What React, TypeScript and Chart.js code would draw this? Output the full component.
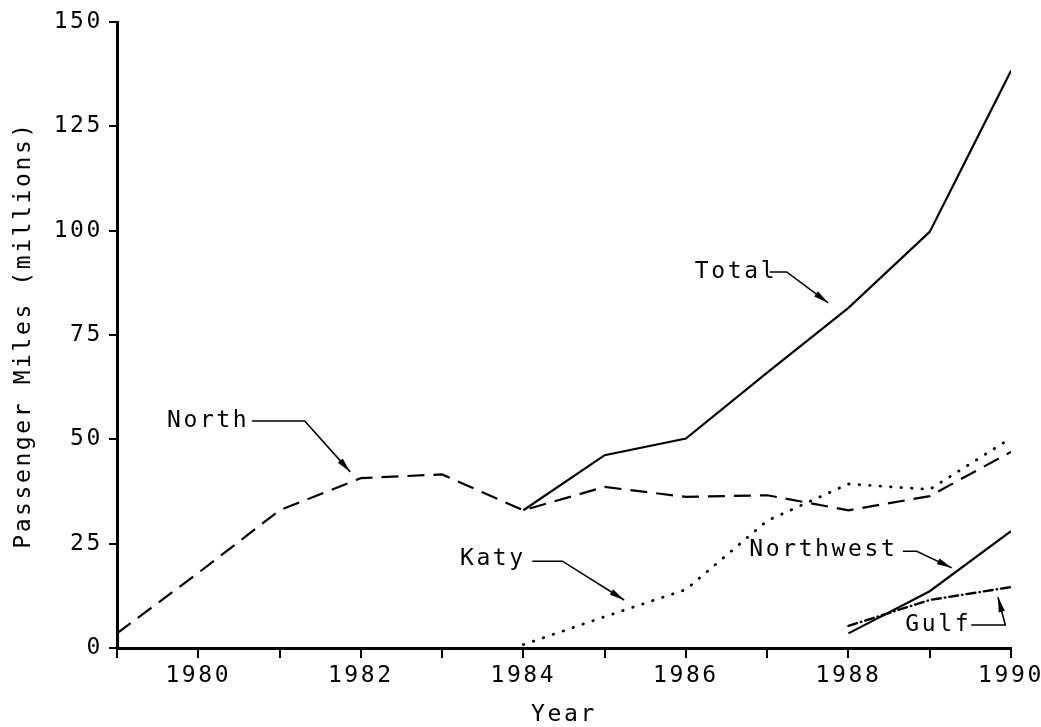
import React, { useEffect, useRef } from 'react';
import { Chart, registerables } from 'chart.js';

Chart.register(...registerables);

const FONT = '"DejaVu Sans Mono", monospace';

// ---- data ----
const years = [1979, 1980, 1981, 1982, 1983, 1984, 1985, 1986, 1987, 1988, 1989, 1990];
const north = [3.5, 18, 33, 40.7, 41.6, 33, 38.6, 36.2, 36.6, 33, 36.4, 47];
const total = [null, null, null, null, null, 33, 46.2, 50.2, 66, 81.5, 99.7, 138.3];
const katy = [null, null, null, null, null, 0.8, 7.5, 14, 30.5, 39.3, 38, 50.3];
const northwest = [null, null, null, null, null, null, null, null, null, 3.5, 13.6, 28];
const gulf = [null, null, null, null, null, null, null, null, null, 5.3, 11.5, 14.6];

const yTicks = [0, 25, 50, 75, 100, 125, 150];
const xLabelYears = [1980, 1982, 1984, 1986, 1988, 1990];

// annotation labels (data units)
const annotationTexts = ['North', 'Total', 'Katy', 'Northwest', 'Gulf'];
const annotationTextX = [1979.615, 1986.11, 1983.22, 1986.78, 1988.7];
const annotationTextY = [54.4, 90.1, 21.3, 23.5, 5.5];
const annotationLeaders: number[][][] = [
  [[1980.66, 54.4], [1981.31, 54.4], [1981.87, 42.2]],
  [[1987.03, 90.1], [1987.24, 90.1], [1987.75, 82.7]],
  [[1984.11, 20.8], [1984.48, 20.8], [1985.24, 11.5]],
  [[1988.67, 23.2], [1988.84, 23.2], [1989.27, 19.2]],
  [[1989.51, 5.5], [1989.93, 5.5], [1989.84, 12.2]],
];

const SPACING = '2.6px';

const spacingPlugin = {
  id: 'letterSpacing',
  beforeUpdate(chart: any) {
    chart.ctx.letterSpacing = SPACING;
  },
  beforeDraw(chart: any) {
    chart.ctx.letterSpacing = SPACING;
  },
};

const annotationPlugin = {
  id: 'annotations',
  afterDatasetsDraw(chart: any) {
    const ctx = chart.ctx as CanvasRenderingContext2D;
    const xs = chart.scales.x;
    const ys = chart.scales.y;
    ctx.save();
    (ctx as any).letterSpacing = SPACING;
    ctx.fillStyle = '#000';
    ctx.strokeStyle = '#000';
    ctx.font = `23px ${FONT}`;
    ctx.textAlign = 'left';
    ctx.textBaseline = 'middle';
    annotationTexts.forEach((t, i) => {
      ctx.fillText(t, xs.getPixelForValue(annotationTextX[i]), ys.getPixelForValue(annotationTextY[i]));
      const pts = annotationLeaders[i].map(([dx, dy]) => [xs.getPixelForValue(dx), ys.getPixelForValue(dy)]);
      ctx.lineWidth = 1.6;
      ctx.beginPath();
      pts.forEach(([px, py], k) => (k === 0 ? ctx.moveTo(px, py) : ctx.lineTo(px, py)));
      ctx.stroke();
      // arrowhead
      const [ax, ay] = pts[pts.length - 1];
      const [bx, by] = pts[pts.length - 2];
      const ang = Math.atan2(ay - by, ax - bx);
      const len = 15;
      const hw = 3.2;
      const cx = ax - len * Math.cos(ang);
      const cy = ay - len * Math.sin(ang);
      ctx.beginPath();
      ctx.moveTo(ax, ay);
      ctx.lineTo(cx + hw * Math.sin(ang), cy - hw * Math.cos(ang));
      ctx.lineTo(cx - hw * Math.sin(ang), cy + hw * Math.cos(ang));
      ctx.closePath();
      ctx.fill();
    });
    ctx.restore();
  },
};

export default function App() {
  const ref = useRef<HTMLCanvasElement>(null);

  useEffect(() => {
    if (!ref.current) return;
    const line = (data: (number | null)[], dash: number[], cap: CanvasLineCap = 'butt', width = 2.2) => ({
      data,
      borderColor: '#000',
      backgroundColor: '#000',
      borderWidth: width,
      borderDash: dash,
      borderCapStyle: cap,
      pointRadius: 0,
      tension: 0,
      spanGaps: false,
      fill: false,
    });
    const chart = new Chart(ref.current, {
      type: 'line',
      data: {
        labels: years,
        datasets: [
          { label: 'North', ...line(north, [17, 9]) },
          { label: 'Total', ...line(total, []) },
          { label: 'Katy', ...line(katy, [0.5, 10], 'round', 2.8) },
          { label: 'Northwest', ...line(northwest, []) },
          { label: 'Gulf', ...line(gulf, [9, 4, 0.5, 4], 'round', 2.4) },
        ] as any,
      },
      options: {
        animation: false,
        responsive: true,
        maintainAspectRatio: false,
        layout: { padding: { left: 0, top: 22, right: 30, bottom: 0 } },
        plugins: {
          legend: { display: false },
          tooltip: { enabled: false },
        },
        scales: {
          x: {
            type: 'linear',
            min: 1979,
            max: 1990,
            afterBuildTicks(scale: any) {
              scale.ticks = years.map((v) => ({ value: v }));
            },
            afterFit(scale: any) {
              scale.height = 79;
              scale.paddingLeft = 0;
              scale.paddingRight = 0;
            },
            ticks: {
              autoSkip: false,
              maxRotation: 0,
              minRotation: 0,
              padding: 4,
              color: '#000',
              font: { family: FONT, size: 23 },
              callback: (v: any) => (xLabelYears.includes(Number(v)) ? String(v) : ''),
            },
            grid: {
              display: true,
              drawOnChartArea: false,
              drawTicks: true,
              tickLength: 10,
              color: '#000',
              lineWidth: 2,
            },
            border: { display: true, color: '#000', width: 3 },
            title: {
              display: true,
              text: 'Year',
              color: '#000',
              font: { family: FONT, size: 23, lineHeight: 1.05 },
              padding: { top: 0, bottom: 0 },
            },
          },
          y: {
            type: 'linear',
            min: 0,
            max: 150,
            afterBuildTicks(scale: any) {
              scale.ticks = yTicks.map((v) => ({ value: v }));
            },
            afterFit(scale: any) {
              scale.width = 117;
              scale.paddingTop = 0;
              scale.paddingBottom = 0;
            },
            ticks: {
              padding: 6,
              color: '#000',
              font: { family: FONT, size: 23 },
            },
            grid: {
              display: true,
              drawOnChartArea: false,
              drawTicks: true,
              tickLength: 8,
              color: '#000',
              lineWidth: 2,
            },
            border: { display: true, color: '#000', width: 3 },
            title: {
              display: true,
              text: 'Passenger Miles (millions)',
              color: '#000',
              font: { family: FONT, size: 23 },
              padding: { top: 10, bottom: 0 },
            },
          },
        },
      } as any,
      plugins: [spacingPlugin, annotationPlugin],
    });
    return () => chart.destroy();
  }, []);

  return (
    <div style={{ position: 'fixed', left: 0, top: 0, width: 1041, height: 727, background: '#fff' }}>
      <canvas ref={ref} />
    </div>
  );
}
